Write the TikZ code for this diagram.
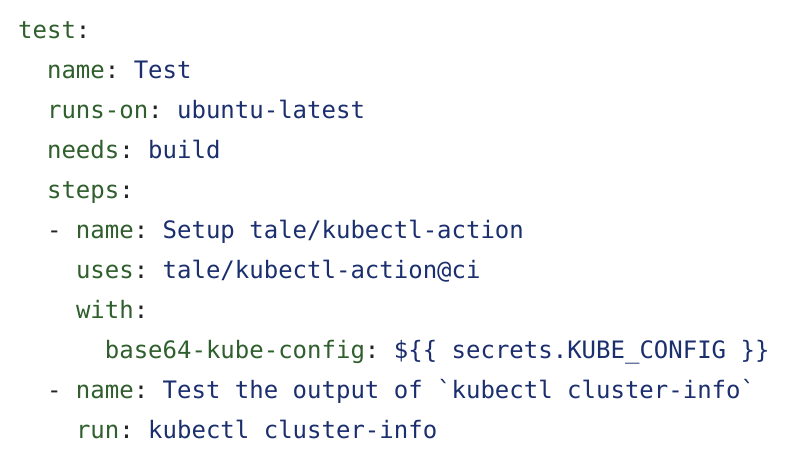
\documentclass[tikz,border=0pt]{standalone}
\usepackage{fontspec}
\setmonofont{DejaVu Sans Mono}
\definecolor{kc}{HTML}{2F5F2C}
\definecolor{vc}{HTML}{1B2F6E}
\definecolor{pc}{HTML}{222222}
\newcommand{\Kk}[1]{\textcolor{kc}{#1}}
\newcommand{\Vv}[1]{\textcolor{vc}{#1}}
\newcommand{\Pp}[1]{\textcolor{pc}{#1}}
\begin{document}
\begin{tikzpicture}[x=1pt,y=-1pt,
  ln/.style={anchor=base west,inner sep=0pt,font=\ttfamily\fontsize{24}{24}\selectfont}]
\useasboundingbox[fill=white] (0,0) rectangle (792,466);
\def\cw{14.45}
\node[ln] (l1) at (18,38) {\Kk{test}\Pp{:}};
\node[ln] (l2) at (18+2*\cw,78) {\Kk{name}\Pp{:} \Vv{Test}};
\node[ln] (l3) at (18+2*\cw,118) {\Kk{runs-on}\Pp{:} \Vv{ubuntu-latest}};
\node[ln] (l4) at (18+2*\cw,158) {\Kk{needs}\Pp{:} \Vv{build}};
\node[ln] (l5) at (18+2*\cw,198) {\Kk{steps}\Pp{:}};
\node[ln] (l6) at (18+2*\cw,238) {\Pp{-} \Kk{name}\Pp{:} \Vv{Setup tale/kubectl-action}};
\node[ln] (l7) at (18+4*\cw,278) {\Kk{uses}\Pp{:} \Vv{tale/kubectl-action@ci}};
\node[ln] (l8) at (18+4*\cw,318) {\Kk{with}\Pp{:}};
\node[ln] (l9) at (18+6*\cw,358) {\Kk{base64-kube-config}\Pp{:} \Vv{\$\{\{ secrets.KUBE\_CONFIG \}\}}};
\node[ln] (l10) at (18+2*\cw,398) {\Pp{-} \Kk{name}\Pp{:} \Vv{Test the output of `kubectl cluster-info`}};
\node[ln] (l11) at (18+4*\cw,438) {\Kk{run}\Pp{:} \Vv{kubectl cluster-info}};
\end{tikzpicture}
\end{document}
